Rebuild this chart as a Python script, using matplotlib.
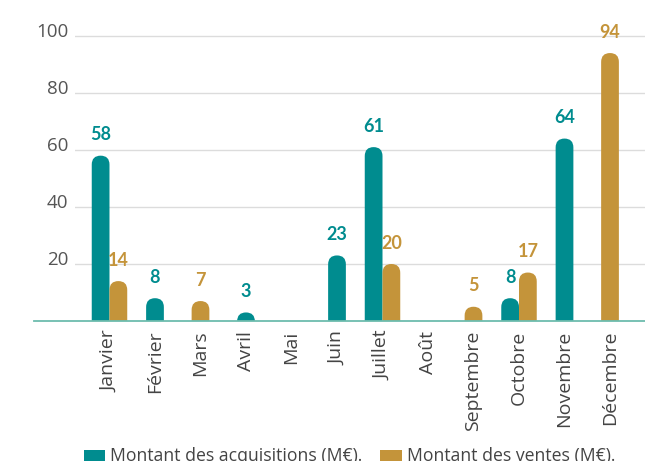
import matplotlib.pyplot as plt
import numpy as np
from matplotlib.patches import FancyBboxPatch, Patch
from matplotlib.transforms import ScaledTranslation

# data
mois = ['Janvier', 'Février', 'Mars', 'Avril', 'Mai', 'Juin', 'Juillet',
        'Août', 'Septembre', 'Octobre', 'Novembre', 'Décembre']
acquisitions = [58, 8, 0, 3, 0, 23, 61, 0, 0, 8, 64, 0]
ventes = [14, 0, 7, 0, 0, 0, 20, 0, 5, 17, 0, 94]
yticks = [20, 40, 60, 80, 100]

teal = '#008c8f'
gold = '#c4943a'
plt.rcParams['font.family'] = ['Open Sans', 'DejaVu Sans']

fig = plt.figure(figsize=(6.45, 4.61), dpi=100)
ax = fig.add_axes([75/645, 140/461, 570/645, 311/461])
ax.set_xlim(-0.758, 11.769)
ax.set_ylim(0, 109.1)

w = 0.39
x = np.arange(len(mois))

# pixel aspect for the rounded tops
p0 = ax.transData.transform((0, 0))
p1 = ax.transData.transform((1, 1))
asp = (p1[0] - p0[0]) / (p1[1] - p0[1])
ry = w / 2 * asp

def draw_bar(xc, v, color):
    patch = FancyBboxPatch((xc - w/2, -ry), w, v + ry,
                           boxstyle='round,pad=0,rounding_size=%f' % (w/2),
                           mutation_aspect=asp, facecolor=color,
                           edgecolor='none', zorder=3)
    ax.add_patch(patch)
    ax.annotate(str(v), (xc, v), xytext=(0, 15), textcoords='offset points',
                ha='center', va='center', color=color, fontsize=13,
                fontweight='bold', family=['Lato', 'DejaVu Sans'], zorder=4)

for i in x:
    a, s = acquisitions[i], ventes[i]
    if a and s:
        draw_bar(i - w/2, a, teal)
        draw_bar(i + w/2, s, gold)
    elif a:
        draw_bar(i, a, teal)
    elif s:
        draw_bar(i, s, gold)

# grid and baseline
for t in yticks:
    ax.axhline(t, color='#dcdcdc', lw=1, zorder=1)
ax.axhline(0, xmin=-41/570, xmax=1, color='#6dbcae', lw=1.3,
           clip_on=False, zorder=5)

for s in ax.spines.values():
    s.set_visible(False)
ax.set_yticks(yticks)
ax.set_yticklabels([str(t) for t in yticks], fontsize=13.5, color='#555555')
ax.tick_params(axis='y', length=0, pad=5)
for lab in ax.get_yticklabels():
    lab.set_transform(lab.get_transform() + ScaledTranslation(0, 6/100, fig.dpi_scale_trans))

ax.set_xticks(x)
ax.set_xticklabels(mois, rotation=90, fontsize=14, color='#444444')
ax.tick_params(axis='x', length=0, pad=7)

handles = [Patch(facecolor=teal, label='Montant des acquisitions (M€).'),
           Patch(facecolor=gold, label='Montant des ventes (M€).')]
fig.legend(handles=handles, loc='center', bbox_to_anchor=(0.542, 0.01),
           ncol=2, frameon=False, fontsize=12.7, labelcolor='#444444',
           handlelength=1.2, handleheight=0.6, handletextpad=0.3,
           columnspacing=1.0)

fig.savefig('out.png', dpi=100)
